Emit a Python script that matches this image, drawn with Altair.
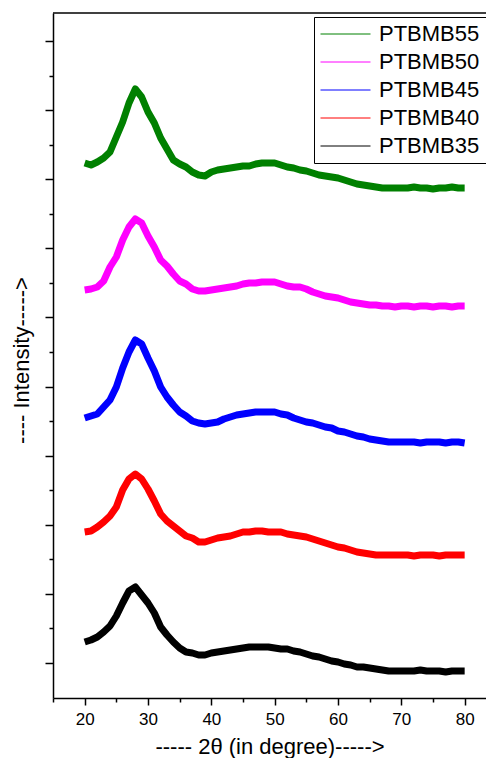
import altair as alt
import pandas as pd

two_theta = list(range(20, 81))

series_names = ["PTBMB55", "PTBMB50", "PTBMB45", "PTBMB40", "PTBMB35"]
series_colors = ["#008000", "#FF00FF", "#0000FF", "#FF0000", "#000000"]

# intensities (a.u., offset stack as plotted), one value per degree 20..80
ptbmb55 = [535, 533, 536, 540, 546, 561, 576, 595, 609, 601,
           586, 575, 560, 549, 538, 534, 531, 526, 523, 522,
           526, 528, 529, 530, 531, 532, 532, 534, 535, 535,
           535, 533, 531, 530, 528, 527, 525, 523, 522, 521,
           520, 518, 516, 514, 513, 512, 511, 510, 510, 510,
           510, 510, 511, 510, 510, 509, 510, 510, 511, 510, 510]
ptbmb50 = [408, 409, 411, 417, 431, 441, 458, 471, 479, 475,
           462, 451, 438, 432, 424, 417, 414, 409, 407, 407,
           408, 409, 410, 411, 412, 414, 415, 415, 416, 416,
           416, 414, 412, 411, 411, 409, 406, 404, 402, 401,
           400, 398, 396, 395, 394, 393, 393, 392, 392, 391,
           392, 392, 391, 392, 392, 391, 392, 392, 391, 392, 392]
ptbmb45 = [280, 282, 284, 291, 298, 311, 330, 346, 358, 354,
           340, 327, 311, 301, 293, 286, 282, 277, 275, 274,
           275, 276, 279, 281, 283, 284, 285, 286, 286, 286,
           286, 284, 283, 280, 278, 276, 275, 273, 271, 270,
           267, 266, 264, 262, 261, 259, 258, 257, 256, 256,
           256, 256, 256, 255, 256, 256, 256, 255, 256, 256, 255]
ptbmb40 = [166, 167, 171, 176, 182, 191, 208, 219, 224, 219,
           209, 197, 184, 177, 172, 167, 162, 160, 156, 156,
           158, 160, 161, 162, 164, 166, 166, 167, 167, 166,
           166, 166, 164, 163, 162, 161, 159, 157, 155, 153,
           151, 150, 148, 146, 145, 144, 143, 143, 143, 143,
           143, 143, 142, 143, 143, 143, 142, 143, 143, 143, 143]
ptbmb35 = [56, 58, 61, 66, 72, 82, 95, 107, 111, 103,
           95, 85, 71, 63, 56, 50, 46, 45, 43, 43,
           45, 46, 47, 48, 49, 50, 51, 51, 51, 51,
           50, 49, 49, 47, 46, 44, 42, 41, 39, 37,
           36, 34, 33, 31, 31, 30, 29, 28, 27, 27,
           27, 27, 27, 28, 27, 27, 27, 26, 27, 27, 27]

major_x = [20, 30, 40, 50, 60, 70, 80]
minor_x = [15, 25, 35, 45, 55, 65, 75]
major_y = [35, 104, 173, 242, 311, 381, 450, 519, 588, 657]
minor_y = [70, 139, 208, 277, 346, 415, 484, 553, 622]

rows = []
for name, vals in zip(series_names, [ptbmb55, ptbmb50, ptbmb45, ptbmb40, ptbmb35]):
    for t, v in zip(two_theta, vals):
        rows.append({"two_theta": t, "intensity": v, "sample": name})
df = pd.DataFrame(rows)

W, H = 433, 685
FONT = "Liberation Sans"
xscale = alt.Scale(domain=[15, 83.37], nice=False, zero=False)
yscale = alt.Scale(domain=[0, 685], nice=False, zero=False)

base = alt.Chart(df)

lines = base.mark_line(strokeWidth=7, strokeJoin="round", clip=True).encode(
    x=alt.X("two_theta:Q", scale=xscale,
            axis=alt.Axis(orient="bottom", values=major_x, title="----- 2θ (in degree)----->",
                          grid=False, tickSize=7, tickWidth=1.5, tickColor="black",
                          domainColor="black", domainWidth=1.5,
                          labelFont=FONT, labelFontSize=17, labelColor="black", labelPadding=6,
                          titleFont=FONT, titleFontSize=22, titleFontWeight="normal",
                          titleColor="black", titleY=55, titleBaseline="alphabetic")),
    y=alt.Y("intensity:Q", scale=yscale,
            axis=alt.Axis(orient="left", values=major_y, labels=False, title="---- Intensity----->",
                          grid=False, tickSize=8, tickWidth=1.5, tickColor="black",
                          domainColor="black", domainWidth=1.5,
                          titleFont=FONT, titleFontSize=22, titleFontWeight="normal",
                          titleColor="black", titleX=-32, titleY=347, titleAngle=-90,
                          titleAlign="center", titleBaseline="middle")),
    color=alt.Color("sample:N",
                    scale=alt.Scale(domain=series_names, range=series_colors),
                    legend=alt.Legend(title=None, orient="none", legendX=261, legendY=4,
                                      symbolType="stroke", symbolSize=2500, symbolStrokeWidth=1,
                                      labelFont=FONT, labelFontSize=22, labelColor="black",
                                      labelOffset=8, rowPadding=6, padding=6, clipHeight=22,
                                      strokeColor="black", fillColor="white", labelLimit=300)),
)

minor = base.mark_line(opacity=0).encode(
    x=alt.X("two_theta:Q", scale=xscale,
            axis=alt.Axis(orient="bottom", values=minor_x, labels=False, domain=False,
                          grid=False, tickSize=4, tickWidth=1.5, tickColor="black", title=None)),
    y=alt.Y("intensity:Q", scale=yscale,
            axis=alt.Axis(orient="left", values=minor_y, labels=False, domain=False,
                          grid=False, tickSize=4, tickWidth=1.5, tickColor="black", title=None)),
    detail="sample:N",
)

top_border = alt.Chart(pd.DataFrame({"k": [0]})).mark_rule(color="black", strokeWidth=1.5).encode(
    y=alt.value(0), x=alt.value(0), x2=alt.value(W)
)

chart = (
    alt.layer(lines, minor, top_border)
    .resolve_axis(x="independent", y="independent")
    .properties(width=W, height=H,
                autosize=alt.AutoSizeParams(type="none"),
                padding={"left": 45, "top": 5, "right": 0, "bottom": 60})
    .configure_view(stroke=None)
)

chart.save("out.html", embed_options={"renderer": "svg", "actions": False})
